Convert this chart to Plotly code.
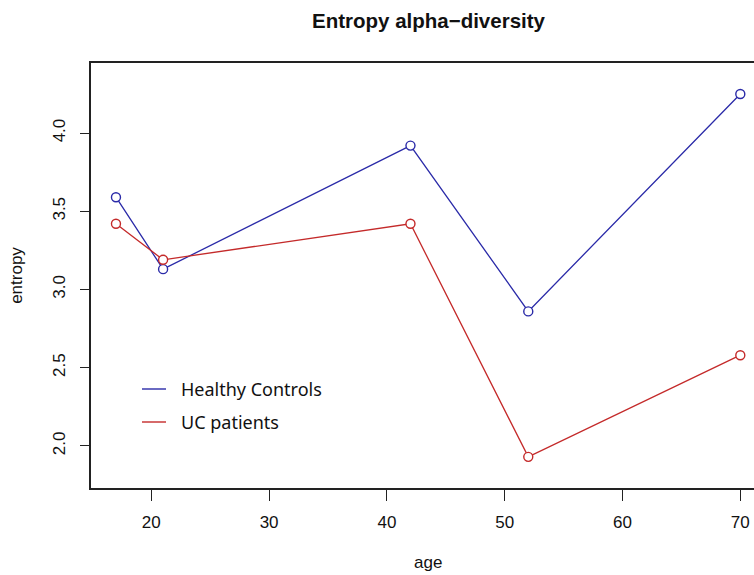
import plotly.graph_objects as go

# Entropy by age for the two groups
age = [17, 21, 42, 52, 70]
healthy_entropy = [3.59, 3.13, 3.92, 2.86, 4.25]
uc_entropy = [3.42, 3.19, 3.42, 1.93, 2.58]

x_ticks = [20, 30, 40, 50, 60, 70]
y_ticks = [2.0, 2.5, 3.0, 3.5, 4.0]

BLUE = "#2a2aa8"
RED = "#c42a2a"
AXIS = "#222222"
FONT = "Liberation Sans, Arial, sans-serif"

W, H = 754, 575
ML, MR, MT, MB = 91, 0, 63, 87
PX_PER_AGE = 11.78
X0 = 14.88
x_range = [X0, X0 + (W - ML - MR) / PX_PER_AGE]
y_range = [1.731, 4.448]

fig = go.Figure()

for vals, col in [(healthy_entropy, BLUE), (uc_entropy, RED)]:
    fig.add_trace(go.Scatter(
        x=age, y=vals, mode="lines+markers",
        line=dict(color=col, width=1.3),
        marker=dict(symbol="circle", size=9, color="white",
                    line=dict(color=col, width=1.4)),
        showlegend=False, hoverinfo="x+y",
    ))

plot_w = W - ML - MR
plot_h = H - MT - MB

def px_x(p):
    return (p - ML) / plot_w

def px_y(p):
    return (H - MB - p) / plot_h

# Legend (lines only, no box)
shapes = []
annotations = []
for label, col, ypix in [("Healthy Controls", BLUE, 389), ("UC patients", RED, 422)]:
    shapes.append(dict(type="line", xref="paper", yref="paper",
                       x0=px_x(142), x1=px_x(166), y0=px_y(ypix), y1=px_y(ypix),
                       line=dict(color=col, width=1.4)))
    annotations.append(dict(xref="paper", yref="paper", x=px_x(179), y=px_y(ypix),
                            text=label, showarrow=False, xanchor="left", yanchor="middle",
                            font=dict(family="Noto Sans, Open Sans, sans-serif", size=18, color="#111111")))

# x-axis title, centred under the full plotting region
annotations.append(dict(xref="paper", yref="paper", x=px_x(428), y=px_y(562),
                        text="age", showarrow=False, xanchor="center", yanchor="middle",
                        font=dict(family=FONT, size=17, color="#111111")))

fig.update_layout(
    width=W, height=H,
    margin=dict(l=ML, r=MR, t=MT, b=MB, pad=0),
    paper_bgcolor="white", plot_bgcolor="white",
    font=dict(family=FONT, size=17, color="#111111"),
    title=dict(text="<b>Entropy alpha\u2212diversity</b>", xref="container", yref="container",
               x=428.5 / W, y=1 - 21 / H, xanchor="center", yanchor="middle",
               font=dict(family=FONT, size=20.5, color="#111111")),
    shapes=shapes,
    annotations=annotations,
    xaxis=dict(
        range=x_range, tickvals=x_ticks, ticktext=[str(v) for v in x_ticks],
        showgrid=False, zeroline=False,
        showline=True, linecolor=AXIS, linewidth=1.5, mirror=True,
        ticks="outside", ticklen=11, tickwidth=1.2, tickcolor=AXIS,
        ticklabelstandoff=7,
    ),
    yaxis=dict(
        range=y_range, tickvals=y_ticks, ticktext=[f"{v:.1f}" for v in y_ticks],
        tickangle=-90,
        showgrid=False, zeroline=False,
        showline=True, linecolor=AXIS, linewidth=1.5, mirror=False,
        ticks="outside", ticklen=9, tickwidth=1.2, tickcolor=AXIS,
        ticklabelstandoff=8,
        title=dict(text="entropy", standoff=24, font=dict(size=17)),
    ),
)

fig.write_html("out.html")
